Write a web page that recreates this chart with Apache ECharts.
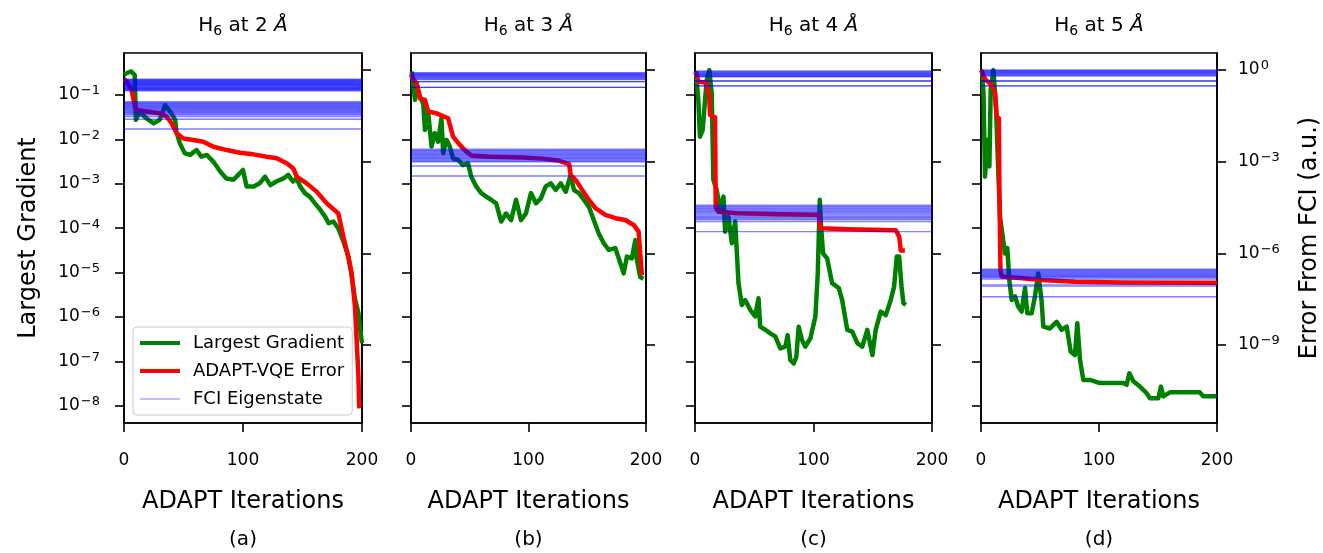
<!DOCTYPE html>
<html><head><meta charset="utf-8">
<script src="https://cdn.jsdelivr.net/npm/echarts@6/dist/echarts.min.js"></script>
<style>html,body{margin:0;padding:0;background:#fff}#c{width:1323px;height:553px}</style>
</head><body><div id="c"></div>
<script>
// ---------- data (log10 values) ----------
const distances = [2, 3, 4, 5];
const panelLabels = ['(a)', '(b)', '(c)', '(d)'];
const xTicks = [0, 100, 200];
const leftTicks = [-8, -7, -6, -5, -4, -3, -2, -1];     // log10 of Largest Gradient
const rightTicks = [-9, -6, -3, 0];                       // log10 of Error From FCI
const leftRange = [-8.39, -0.054];
const rightRange = [-11.55, 0.556];

// Panel (a)
const gradIterA = [0,2,6,9,10,13,19,25,30,34.5,39,43,44,47,51,55.5,61,65,69.5,75,81,86,92,96,100,103,109,114,118.5,123,128,134,138,142,145,148,152,156,160.5,165,169,172,176,180,184,188.5,191,194,197,198.5,200];
const gradLogA  = [-0.55,-0.51,-0.47,-0.55,-1.56,-1.38,-1.53,-1.64,-1.56,-1.23,-1.38,-1.56,-1.83,-2.09,-2.31,-2.35,-2.24,-2.39,-2.35,-2.50,-2.73,-2.88,-2.91,-2.80,-2.69,-3.06,-3.06,-2.99,-2.84,-3.03,-2.95,-2.88,-2.80,-2.95,-2.88,-3.06,-3.21,-3.29,-3.44,-3.59,-3.74,-3.89,-3.85,-4.00,-4.27,-4.64,-5.02,-5.58,-5.92,-6.29,-6.59];
const errIterA  = [0,1.7,6.4,9.2,10.6,19,30.3,35.9,40.1,44.3,49.9,58.3,66.7,75.1,86.3,97.5,108.7,119.9,128.3,136.7,142.3,145.1,153.5,161.9,170.3,180.1,184.3,188.5,191.3,194.1,195.5,196.9,197.7];
const errLogA   = [-0.30,-0.35,-0.65,-1.20,-1.31,-1.36,-1.42,-1.53,-1.75,-2.07,-2.24,-2.29,-2.35,-2.51,-2.62,-2.71,-2.76,-2.84,-2.89,-3.05,-3.22,-3.49,-3.71,-3.98,-4.36,-4.69,-5.45,-6.11,-6.65,-7.74,-8.84,-9.93,-11.07];
const fciLogA   = [-0.30,-0.32,-0.34,-0.36,-0.38,-0.40,-0.42,-0.44,-0.46,-0.48,-0.50,-0.52,-0.54,-0.56,-0.58,-0.60,-0.62,-0.64,-0.66,-0.68,
                   -1.04,-1.07,-1.10,-1.13,-1.16,-1.19,-1.22,-1.25,-1.28,-1.31,-1.34,-1.37,-1.40,-1.44,-1.47,-1.52,-1.61,-1.93];

// Panel (b)
const gradIterB = [0.6,3.4,4.8,7.6,10.4,11.9,14.7,17.5,20.3,23.1,25.9,27.4,30.2,33.0,35.8,40.0,44.2,48.5,51.3,55.5,59.8,64.0,68.2,72.5,76.7,80.9,85.2,89.4,93.6,97.8,102.1,106.3,110.5,114.7,119.0,123.2,127.4,131.7,135.9,138.7,142.9,147.1,151.4,155.6,159.8,164.1,168.3,173.9,178.2,181.0,183.8,188.0,190.9,192.3,195.1,197.9];
const gradLogB  = [-0.47,-1.11,-0.74,-1.04,-1.19,-1.79,-1.41,-2.16,-1.86,-2.05,-1.53,-2.31,-2.01,-2.16,-2.43,-2.46,-2.58,-2.54,-2.84,-3.06,-3.21,-3.29,-3.36,-3.44,-3.85,-3.67,-3.82,-3.36,-3.82,-3.67,-3.21,-3.44,-3.33,-3.06,-2.99,-3.14,-2.99,-3.18,-2.80,-3.14,-3.21,-3.36,-3.52,-3.82,-4.12,-4.34,-4.49,-4.45,-4.79,-5.02,-4.64,-4.68,-4.27,-4.72,-5.10,-5.14];
const errIterB  = [0,0.6,4.8,7.6,11.9,14.7,21.7,31.6,35.8,41.5,47.1,51.3,66.8,95.0,112.0,126.1,134.6,135.9,140.2,145.8,151.4,157.1,165.5,174.0,182.4,189.5,193.7,195.1,196.5];
const errLogB   = [-0.15,-0.22,-0.44,-0.93,-0.98,-1.36,-1.42,-1.58,-2.18,-2.45,-2.67,-2.80,-2.84,-2.86,-2.90,-2.97,-3.08,-3.44,-3.60,-3.93,-4.25,-4.53,-4.74,-4.85,-4.91,-5.07,-5.29,-6.00,-6.71];
const fciLogB   = [-0.09,-0.115,-0.14,-0.165,-0.19,-0.215,-0.24,-0.265,-0.29,-0.315,-0.38,-0.38,-0.57,-0.57,
                   -2.59,-2.625,-2.66,-2.695,-2.73,-2.765,-2.80,-2.835,-2.87,-2.905,-2.94,-2.975,-3.00,-3.14,-3.47];

// Panel (c)
const gradIterC = [0.8,2.8,4.2,6.5,8.5,9.9,12.1,14.1,15.5,18.3,21.2,24.0,25.4,28.2,31.1,33.9,36.7,39.5,42.3,46.6,50.8,53.6,55.0,59.3,63.5,67.7,72.0,76.2,78.2,80.4,83.3,85.5,87.5,90.3,93.1,97.4,101.6,103.6,105.3,106.4,108.1,111.5,115.7,121.4,124.2,128.5,132.7,137.0,141.2,145.4,149.7,152.5,156.7,161.0,165.2,168.0,170.3,172.3,174.3,175.9,177.9];
const gradLogC  = [-0.47,-1.11,-1.94,-1.79,-1.11,-0.66,-0.44,-0.96,-2.91,-3.14,-3.59,-3.29,-4.08,-3.74,-4.34,-3.85,-5.24,-5.73,-5.62,-5.84,-5.99,-5.58,-6.22,-6.29,-6.37,-6.44,-6.71,-6.67,-6.41,-6.97,-7.05,-6.90,-6.22,-6.52,-6.67,-6.48,-5.99,-5.02,-3.36,-3.97,-4.57,-4.68,-5.24,-5.35,-5.62,-6.29,-6.33,-6.59,-6.67,-6.29,-6.86,-6.29,-5.88,-5.96,-5.62,-5.32,-4.64,-4.64,-5.32,-5.69,-5.73];
const errIterC  = [0,1.4,2.8,9.9,12.0,12.7,16.9,17.5,19.8,35.3,72.0,104.5,105.9,128.5,169.4,172.3,173.7,177.1];
const errLogC   = [-0.08,-0.15,-0.38,-0.42,-0.90,-1.47,-1.55,-4.50,-4.64,-4.69,-4.72,-4.74,-5.18,-5.21,-5.24,-5.45,-5.91,-5.91];
const fciLogC   = [-0.03,-0.055,-0.08,-0.105,-0.13,-0.155,-0.18,-0.205,-0.22,-0.36,-0.36,-0.52,-0.52,
                   -4.42,-4.46,-4.50,-4.54,-4.58,-4.62,-4.66,-4.70,-4.74,-4.78,-4.82,-4.86,-4.90,-4.96,-5.29];

// Panel (d)
const gradIterD = [0.9,2.1,3.4,5.4,7.1,8.2,10.5,12.7,14.7,16.1,18.4,20.3,22.3,24.0,26.0,28.8,31.6,34.4,37.3,39.2,42.9,45.7,48.5,51.3,52.8,58.4,64.1,68.3,72.6,76.0,79.6,81.6,83.9,86.7,92.3,100.8,109.3,120.6,123.4,125.7,129.1,134.7,140.4,143.2,150.3,152.5,154.5,160.1,171.4,185.5,188.3,199.6];
const gradLogD  = [-0.47,-0.96,-2.84,-2.01,-2.61,-0.89,-0.44,-1.26,-2.76,-3.74,-4.19,-4.57,-4.45,-5.17,-5.62,-5.54,-5.77,-5.88,-5.35,-5.92,-5.92,-5.54,-5.02,-5.62,-6.22,-6.26,-6.11,-6.29,-6.22,-6.78,-6.86,-6.14,-6.97,-7.42,-7.42,-7.49,-7.49,-7.49,-7.53,-7.27,-7.45,-7.57,-7.72,-7.83,-7.83,-7.57,-7.79,-7.70,-7.70,-7.70,-7.79,-7.79];
const errIterD  = [0,3.4,9.1,11.9,13.3,15.2,15.6,16.5,17.5,37.3,51.4,79.6,120,200];
const errLogD   = [0.0,-0.30,-0.49,-0.76,-1.53,-1.58,-4.00,-6.54,-6.76,-6.82,-6.87,-6.93,-6.95,-6.96];
const fciLogD   = [0.0,-0.025,-0.05,-0.075,-0.10,-0.125,-0.15,-0.175,-0.20,-0.36,-0.36,-0.52,-0.52,
                   -6.52,-6.55,-6.58,-6.61,-6.64,-6.67,-6.70,-6.73,-6.76,-6.79,-6.84,-7.03,-7.07,-7.42];

// ---------- layout / style ----------
const FONT = 'DejaVu Sans';
const LEFTS = [124, 411, 695, 981];
const WIDTHS = [238, 235, 237, 236];
const TOP = 53, HEIGHT = 370;
const GREEN = '#008000', RED = '#ff0000', BLUE = 'rgba(0,0,255,0.5)';

const panels = [
  {gi: gradIterA, gl: gradLogA, ei: errIterA, el: errLogA, fci: fciLogA},
  {gi: gradIterB, gl: gradLogB, ei: errIterB, el: errLogB, fci: fciLogB},
  {gi: gradIterC, gl: gradLogC, ei: errIterC, el: errLogC, fci: fciLogC},
  {gi: gradIterD, gl: gradLogD, ei: errIterD, el: errLogD, fci: fciLogD}
];

const zip = (a, b) => a.map((v, k) => [v, b[k]]);
const expFmt = v => {
  const e = Math.round(v);
  const s = e < 0 ? '\u2212' + (-e) : String(e);
  return '{b|10}{s|' + s + '}';
};
const expRich = {
  b: {fontSize: 17, fontFamily: FONT, color: '#000'},
  s: {fontSize: 13, fontFamily: FONT, color: '#000', padding: [0, 0, 8, 1]}
};
const axLine = {show: true, onZero: false, lineStyle: {color: '#000', width: 1.6}};
const tickStyle = {color: '#000', width: 1.6};

const grid = [], xAxis = [], yAxis = [], series = [], graphic = [];
panels.forEach((p, i) => {
  grid.push({left: LEFTS[i], top: TOP, width: WIDTHS[i], height: HEIGHT, show: true,
    borderColor: '#000', borderWidth: 1.6, backgroundColor: 'transparent', containLabel: false});
  xAxis.push({type: 'value', gridIndex: i, min: xTicks[0], max: xTicks[xTicks.length - 1], interval: 100,
    axisLine: axLine, axisTick: {show: true, length: 9, lineStyle: tickStyle},
    axisLabel: {fontSize: 17, fontFamily: FONT, color: '#000', margin: 29},
    splitLine: {show: false},
    name: 'ADAPT Iterations', nameLocation: 'middle', nameGap: 67,
    nameTextStyle: {fontSize: 24, fontFamily: FONT, color: '#000'}});
  yAxis.push({type: 'value', gridIndex: i, position: 'left', min: leftRange[0], max: leftRange[1],
    axisLine: axLine,
    axisTick: {show: true, length: 9, lineStyle: tickStyle, customValues: leftTicks},
    axisLabel: {show: i === 0, customValues: leftTicks, formatter: expFmt, rich: expRich, margin: 24},
    splitLine: {show: false},
    name: i === 0 ? 'Largest Gradient' : '', nameLocation: 'middle', nameGap: 83,
    nameTextStyle: {fontSize: 24, fontFamily: FONT, color: '#000'}});
  yAxis.push({type: 'value', gridIndex: i, position: 'right', min: rightRange[0], max: rightRange[1],
    axisLine: axLine,
    axisTick: {show: true, length: 9, lineStyle: tickStyle, customValues: rightTicks},
    axisLabel: {show: i === 3, customValues: rightTicks, formatter: expFmt, rich: expRich, margin: 21},
    splitLine: {show: false},
    name: i === 3 ? 'Error From FCI (a.u.)' : '', nameLocation: 'middle', nameGap: 81,
    nameTextStyle: {fontSize: 24, fontFamily: FONT, color: '#000'}});

  series.push({type: 'line', name: 'Largest Gradient', xAxisIndex: i, yAxisIndex: 2 * i,
    data: zip(p.gi, p.gl), symbol: 'none', showSymbol: false, color: GREEN,
    lineStyle: {color: GREEN, width: 4.5, join: 'round'}, silent: true, z: 2});
  series.push({type: 'line', name: 'ADAPT-VQE Error', xAxisIndex: i, yAxisIndex: 2 * i + 1,
    data: zip(p.ei, p.el), symbol: 'none', showSymbol: false, color: RED,
    lineStyle: {color: RED, width: 4.5, join: 'round'}, silent: true, z: 2});
  p.fci.forEach(v => {
    series.push({type: 'line', name: 'FCI Eigenstate', xAxisIndex: i, yAxisIndex: 2 * i + 1,
      data: [[xTicks[0], v], [xTicks[xTicks.length - 1], v]], symbol: 'none', showSymbol: false, color: BLUE,
      lineStyle: {color: BLUE, width: 1.4}, silent: true, z: 2});
  });

  const cx = LEFTS[i] + WIDTHS[i] / 2;
  graphic.push({type: 'text', x: cx, y: 26, silent: true, style: {
    text: '{n|H}{s|6}{n| at ' + distances[i] + ' }{it|\u00C5}',
    align: 'center', verticalAlign: 'middle',
    rich: {
      n: {fontSize: 20, fontFamily: FONT, fill: '#000'},
      s: {fontSize: 14, fontFamily: FONT, fill: '#000', padding: [10, 0, 0, 0]},
      it: {fontSize: 20, fontFamily: FONT, fontStyle: 'italic', fill: '#000'}
    }}});
  graphic.push({type: 'text', x: cx, y: 540, silent: true, style: {
    text: panelLabels[i], align: 'center', verticalAlign: 'middle',
    fontSize: 20, fontFamily: FONT, fill: '#000'}});
});

const option = {
  animation: false,
  backgroundColor: '#fff',
  grid, xAxis, yAxis, series, graphic,
  legend: {
    show: true, orient: 'vertical', left: 133, top: 327, padding: [7, 8, 7, 7],
    itemGap: 10, itemWidth: 40, itemHeight: 14, selectedMode: false,
    backgroundColor: 'rgba(255,255,255,0.8)', borderColor: '#cccccc', borderWidth: 1, borderRadius: 4,
    textStyle: {fontSize: 18, fontFamily: FONT, color: '#000', padding: [0, 0, 0, 8]},
    itemStyle: {borderWidth: 0},
    data: [
      {name: 'Largest Gradient', icon: 'path://M0,0H40V4H0Z'},
      {name: 'ADAPT-VQE Error', icon: 'path://M0,0H40V4H0Z'},
      {name: 'FCI Eigenstate', icon: 'path://M0,0H40V1H0Z'}
    ]
  }
};
const chart = echarts.init(document.getElementById('c'), null, {renderer: 'canvas'});
chart.setOption(option);
</script></body></html>
